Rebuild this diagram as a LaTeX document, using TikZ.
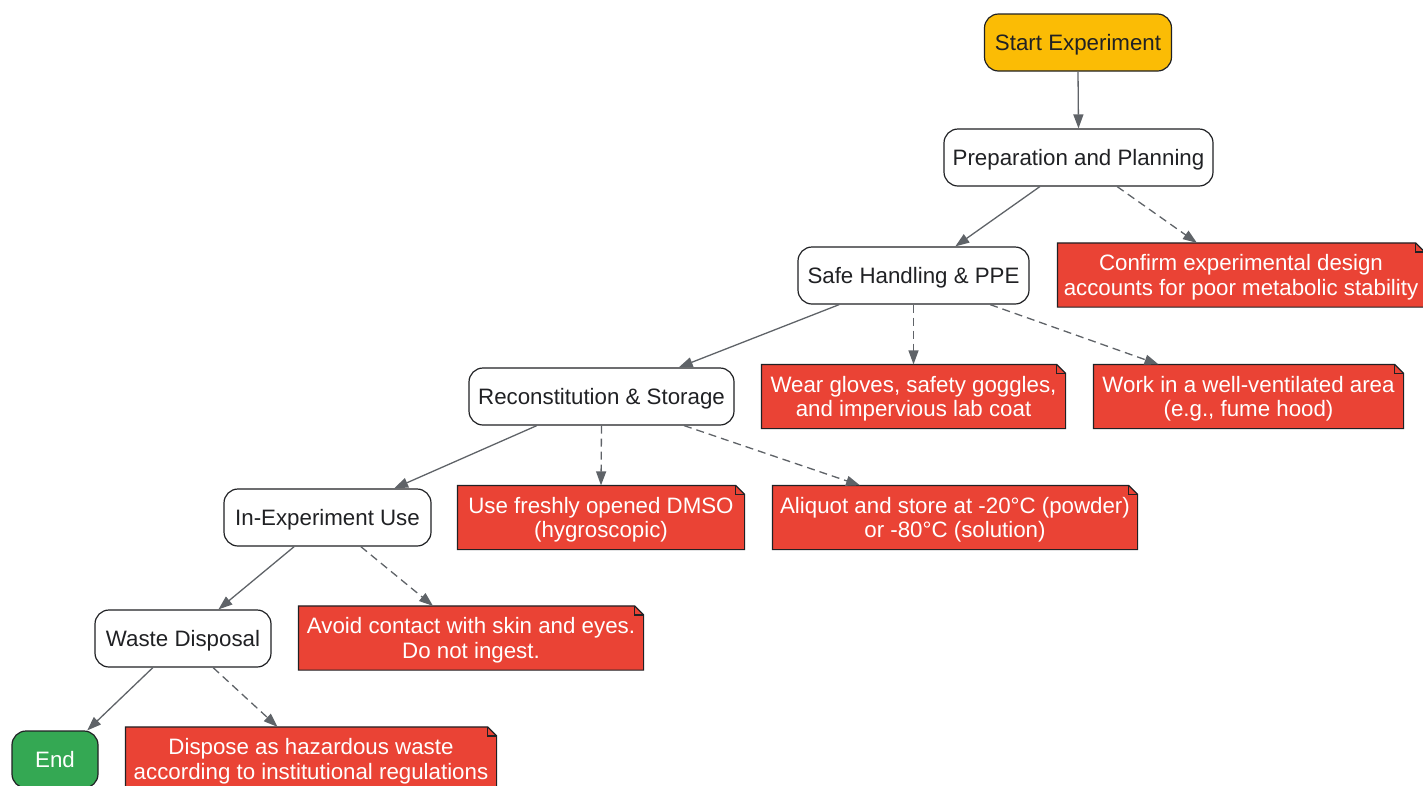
\documentclass[tikz,border=0pt]{standalone}
\usepackage{fontspec}
\setmainfont{Liberation Sans}
\usetikzlibrary{arrows.meta,calc,backgrounds}
\definecolor{gyellow}{HTML}{FBBC05}
\definecolor{gred}{HTML}{EA4335}
\definecolor{ggreen}{HTML}{34A853}
\definecolor{edgegray}{HTML}{5F6368}
\definecolor{darktext}{HTML}{202124}
\tikzset{
  base/.style={font=\fontsize{22.3}{24.5}\selectfont, align=center, inner sep=0pt, line width=1.2pt},
  stepbox/.style={base, text depth=-2pt, draw=darktext, fill=white, text=darktext, rounded corners=14pt, minimum height=57pt},
  startbox/.style={stepbox, fill=gyellow},
  endbox/.style={stepbox, fill=ggreen, text=white},
  notebox/.style={base, text depth=-4pt, text=white, minimum height=63pt},
  notebg/.style={fill=gred, draw=darktext, line width=1.2pt},
  flow/.style={draw=edgegray, line width=1.3pt, -{Triangle[length=14pt,width=10pt]}},
  side/.style={flow, dash pattern=on 8pt off 5pt},
}
\newcommand{\notebg}[1]{%
  \path[notebg] (#1.north west) -- ($(#1.north east)+(-9,0)$) -- ($(#1.north east)+(0,9)$) -- (#1.south east) -- (#1.south west) -- cycle;
  \draw[darktext, line width=1.2pt] ($(#1.north east)+(-9,0)$) -- ($(#1.north east)+(-9,9)$) -- ($(#1.north east)+(0,9)$);
}
\begin{document}
\begin{tikzpicture}[x=1pt,y=-1pt]
\useasboundingbox (0,0) rectangle (1423,785);
% main steps
\node[startbox, minimum width=187pt] (start) at (1078,42.5) {Start Experiment};
\node[stepbox, minimum width=269pt] (prep) at (1078.5,157.5) {Preparation and Planning};
\node[stepbox, minimum width=231pt] (safe) at (913.5,275.5) {Safe Handling \& PPE};
\node[stepbox, minimum width=265pt] (recon) at (601.5,396.5) {Reconstitution \& Storage};
\node[stepbox, minimum width=207pt] (inexp) at (327.5,517.5) {In-Experiment Use};
\node[stepbox, minimum width=176pt] (waste) at (183,638.5) {Waste Disposal};
\node[endbox, minimum width=86pt] (end) at (55,759.5) {End};
% notes
\node[notebox, minimum width=366pt] (confirm) at (1241,275) {Confirm experimental design\\accounts for poor metabolic stability};
\node[notebox, minimum width=303pt] (wear) at (913.5,396.5) {Wear gloves, safety goggles,\\and impervious lab coat};
\node[notebox, minimum width=309pt] (work) at (1248.5,396.5) {Work in a well-ventilated area\\(e.g., fume hood)};
\node[notebox, minimum width=286pt] (dmso) at (601,517.5) {Use freshly opened DMSO\\(hygroscopic)};
\node[notebox, minimum width=364pt] (aliquot) at (955,517.5) {Aliquot and store at -20°C (powder)\\or -80°C (solution)};
\node[notebox, minimum width=344pt] (avoid) at (471,638) {Avoid contact with skin and eyes.\\Do not ingest.};
\node[notebox, minimum width=370pt] (dispose) at (311,759) {Dispose as hazardous waste\\according to institutional regulations};
\begin{scope}[on background layer]
\notebg{confirm}
\notebg{wear}
\notebg{work}
\notebg{dmso}
\notebg{aliquot}
\notebg{avoid}
\notebg{dispose}
\end{scope}
% connectors
\draw[flow] (start.south) -- (prep.north);
\draw[flow] ($(prep.south west)!0.357!(prep.south east)$) -- ($(safe.north west)!0.68!(safe.north east)$);
\draw[side] ($(prep.south west)!0.643!(prep.south east)$) -- ($(confirm.north west)!0.38!(confirm.north east)$);
\draw[flow] ($(safe.south west)!0.18!(safe.south east)$) -- ($(recon.north west)!0.79!(recon.north east)$);
\draw[side] (safe.south) -- (wear.north);
\draw[side] ($(safe.south west)!0.83!(safe.south east)$) -- ($(work.north west)!0.21!(work.north east)$);
\draw[flow] ($(recon.south west)!0.257!(recon.south east)$) -- ($(inexp.north west)!0.82!(inexp.north east)$);
\draw[side] (recon.south) -- (dmso.north);
\draw[side] ($(recon.south west)!0.81!(recon.south east)$) -- ($(aliquot.north west)!0.24!(aliquot.north east)$);
\draw[flow] ($(inexp.south west)!0.34!(inexp.south east)$) -- ($(waste.north west)!0.70!(waste.north east)$);
\draw[side] ($(inexp.south west)!0.66!(inexp.south east)$) -- ($(avoid.north west)!0.39!(avoid.north east)$);
\draw[flow] ($(waste.south west)!0.33!(waste.south east)$) -- ($(end.north west)!0.87!(end.north east)$);
\draw[side] ($(waste.south west)!0.67!(waste.south east)$) -- ($(dispose.north west)!0.41!(dispose.north east)$);
\end{tikzpicture}
\end{document}
